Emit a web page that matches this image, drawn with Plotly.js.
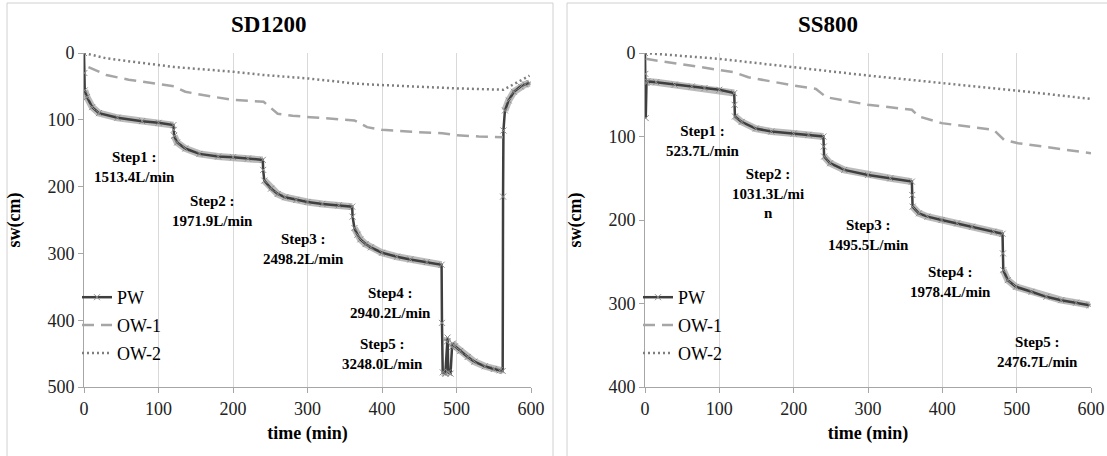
<!DOCTYPE html>
<html><head><meta charset="utf-8">
<script src="https://cdn.plot.ly/plotly-3.0.1.min.js"></script>
<style>html,body{margin:0;padding:0;background:#fff;font-family:'Liberation Serif';}#chart{width:1107px;height:456px;font-family:'Liberation Serif';}</style>
</head><body>
<div id="chart"></div>
<script>
// ---------- data ----------
const chartTitles = ['SD1200', 'SS800'];
const xTickVals = [0, 100, 200, 300, 400, 500, 600];
const sdYTicks = [0, 100, 200, 300, 400, 500];
const ssYTicks = [0, 100, 200, 300, 400];
const seriesNames = ['PW', 'OW-1', 'OW-2'];

// SD1200
const sdPwT = [0, 0.5, 1, 4, 11, 20, 45, 78, 100, 120, 120.5, 121, 125, 136, 155, 180, 200, 220, 240, 240.5, 242, 251, 260, 270, 285, 300, 320, 342, 360, 360.5, 363, 367, 371, 378, 385, 400, 420, 438, 460, 480, 480.5, 481.5, 485, 487, 488, 489, 492, 494, 495, 498, 505, 515, 524, 538, 550, 558, 562, 562.5, 563, 565, 570, 577, 586, 592, 598];
const sdPwV = [0, 30, 56, 66, 81, 90, 97, 102, 104.5, 108, 115, 124, 134, 143, 151, 155, 156, 158, 160, 175, 191, 203, 211, 216, 220, 223, 226, 228, 230, 245, 262, 272, 279, 286, 291, 299, 305, 309, 313, 317, 404, 478, 480, 432, 426, 478, 480, 440, 435, 439, 446, 455, 462, 469, 473, 475, 476, 215, 116, 86, 71, 58, 50, 47, 45];
const sdOw1T = [6, 30, 60, 100, 121, 136, 170, 200, 241, 260, 280, 304, 340, 363, 380, 400, 440, 481, 500, 530, 562];
const sdOw1V = [21, 33, 40, 46, 50, 58, 65, 70, 73, 91, 94, 96, 99, 101, 111, 115, 118, 120, 123, 125, 126];
const sdOw2T = [0, 30, 100, 121, 200, 241, 300, 366, 400, 500, 563, 580, 598];
const sdOw2V = [0, 8, 18, 21, 28, 33, 38, 46, 48, 53, 55, 45, 34];
const sdStepT = [68, 172, 294, 412, 400];
const sdStepV = [170, 236, 294, 374, 451];
const sdStepText = ['Step1 :<br>1513.4L/min', 'Step2 :<br>1971.9L/min', 'Step3 :<br>2498.2L/min', 'Step4 :<br>2940.2L/min', 'Step5 :<br>3248.0L/min'];

// SS800
const ssPwT = [0, 0.5, 1, 2, 3, 15, 40, 63, 80, 100, 120, 120.5, 121, 130, 149, 170, 200, 220, 240, 240.5, 241, 249, 268, 300, 330, 359, 359.5, 360, 368.5, 380, 399, 420, 440, 469, 481, 481.5, 482, 488, 499, 520, 540, 560, 580, 598];
const ssPwV = [0, 25, 78, 36, 34, 35, 38, 40, 42, 44, 48, 62, 76, 82.5, 90.5, 94, 96.5, 98, 100, 112, 124, 132, 140, 146, 150, 154, 170, 184, 192, 196, 200, 204, 208, 214, 216.5, 240, 260, 272, 280, 286, 292, 296, 299, 302];
const ssOw1T = [1, 44, 100, 120, 139, 200, 230, 244, 300, 359, 368.5, 399, 469, 483, 502, 550, 600];
const ssOw1V = [7, 13, 20, 23, 29, 39, 43, 53, 62, 68, 76, 84, 92, 104, 108, 114, 120];
const ssOw2T = [0, 100, 200, 300, 400, 500, 600];
const ssOw2V = [0, 7, 17, 27, 36, 45, 55];
const ssStepT = [78, 165, 300, 411, 528];
const ssStepV = [105, 168, 218, 274, 358];
const ssStepText = ['Step1 :<br>523.7L/min', 'Step2 :<br>1031.3L/mi<br>n', 'Step3 :<br>1495.5L/min', 'Step4 :<br>1978.4L/min', 'Step5 :<br>2476.7L/min'];

// ---------- styling ----------
const FONT = 'Liberation Serif';
const W = 1107, H = 456;
const px = v => v / W, py = v => (H - v) / H;
const yDom = [py(387), py(53)];

// halo (dense-marker look) : break at fast jumps
function halo(t, v) {
  const ht = [], hv = [];
  for (let i = 0; i < t.length; i++) {
    if (i > 0) {
      const s = Math.abs((v[i] - v[i - 1]) / (t[i] - t[i - 1]));
      if (s > 6) { ht.push(null); hv.push(null); }
    }
    ht.push(t[i]); hv.push(v[i]);
  }
  return [ht, hv];
}

function traces(pwT, pwV, o1T, o1V, o2T, o2V, xa, ya, lg) {
  const [hT, hV] = halo(pwT, pwV);
  return [
    {x: hT, y: hV, xaxis: xa, yaxis: ya, mode: 'lines', showlegend: false, hoverinfo: 'skip',
     line: {color: 'rgba(150,150,150,0.65)', width: 7}, connectgaps: false},
    {x: pwT, y: pwV, xaxis: xa, yaxis: ya, name: seriesNames[0], legend: lg, legendgroup: lg + 'a',
     mode: 'lines+markers', line: {color: '#3f3f3f', width: 2.5},
     marker: {symbol: 'x-thin-open', size: 6, color: '#8c8c8c', line: {color: '#8c8c8c', width: 1}}},
    {x: o1T, y: o1V, xaxis: xa, yaxis: ya, name: seriesNames[1], legend: lg, legendgroup: lg + 'b',
     mode: 'lines', line: {color: '#a6a6a6', width: 2.5, dash: '12px,7px'}},
    {x: o2T, y: o2V, xaxis: xa, yaxis: ya, name: seriesNames[2], legend: lg, legendgroup: lg + 'c',
     mode: 'lines', line: {color: '#7f7f7f', width: 2.5, dash: '2px,3px'}}
  ];
}

const data = [
  ...traces(sdPwT, sdPwV, sdOw1T, sdOw1V, sdOw2T, sdOw2V, 'x', 'y', 'legend'),
  ...traces(ssPwT, ssPwV, ssOw1T, ssOw1V, ssOw2T, ssOw2V, 'x2', 'y2', 'legend2')
];

function xAxis(dom, anchor) {
  return {domain: dom, anchor: anchor, range: [0, 600], tickvals: xTickVals, showgrid: true,
    gridcolor: '#d9d9d9', gridwidth: 1, showline: true, linecolor: '#a6a6a6', linewidth: 1,
    ticks: 'outside', ticklen: 5, tickcolor: '#a6a6a6', zeroline: false, automargin: false,
    tickfont: {family: FONT, size: 18, color: '#222'},
    title: {text: 'time (min)', standoff: 8, font: {family: FONT, size: 18, color: '#000', weight: 'bold'}}};
}
function yAxis(maxV, ticks, anchor) {
  return {domain: yDom, anchor: anchor, range: [maxV, 0], tickvals: ticks, showgrid: false,
    showline: true, linecolor: '#a6a6a6', linewidth: 1, ticks: 'outside', ticklen: 5,
    tickcolor: '#a6a6a6', zeroline: false, automargin: false,
    tickfont: {family: FONT, size: 18, color: '#222'},
    title: {text: 'sw(cm)', standoff: 22, font: {family: FONT, size: 18, color: '#000', weight: 'bold'}}};
}

const annFont = {family: FONT, size: 15, color: '#000', weight: 'bold'};
const annotations = [];
sdStepText.forEach((t, i) => annotations.push({x: sdStepT[i], y: sdStepV[i], xref: 'x', yref: 'y', text: t,
  showarrow: false, font: annFont, align: 'center', xanchor: 'center', yanchor: 'middle'}));
ssStepText.forEach((t, i) => annotations.push({x: ssStepT[i], y: ssStepV[i], xref: 'x2', yref: 'y2', text: t,
  showarrow: false, font: annFont, align: 'center', xanchor: 'center', yanchor: 'middle'}));
annotations.push({x: px(268), y: py(24), xref: 'paper', yref: 'paper', text: chartTitles[0], showarrow: false,
  xanchor: 'center', yanchor: 'middle', font: {family: FONT, size: 23, color: '#000', weight: 'bold'}});
annotations.push({x: px(828), y: py(24), xref: 'paper', yref: 'paper', text: chartTitles[1], showarrow: false,
  xanchor: 'center', yanchor: 'middle', font: {family: FONT, size: 23, color: '#000', weight: 'bold'}});

const legFont = {family: FONT, size: 18, color: '#000'};
const layout = {
  width: W, height: H, margin: {l: 0, r: 0, t: 0, b: 0}, paper_bgcolor: '#fff', plot_bgcolor: '#fff',
  font: {family: FONT, size: 18, color: '#000'},
  xaxis: xAxis([px(84), px(531)], 'y'),
  yaxis: yAxis(500, sdYTicks, 'x'),
  xaxis2: xAxis([px(645), px(1091)], 'y2'),
  yaxis2: yAxis(400, ssYTicks, 'x2'),
  legend: {x: px(77), y: py(279), xanchor: 'left', yanchor: 'top', font: legFont, bgcolor: 'rgba(0,0,0,0)',
    traceorder: 'grouped', tracegroupgap: 1.5, itemwidth: 30},
  legend2: {x: px(638), y: py(279), xanchor: 'left', yanchor: 'top', font: legFont, bgcolor: 'rgba(0,0,0,0)',
    traceorder: 'grouped', tracegroupgap: 1.5, itemwidth: 30},
  annotations: annotations,
  shapes: [
    {type: 'rect', xref: 'paper', yref: 'paper', x0: px(7), x1: px(553), y0: -0.05, y1: py(3),
     line: {color: '#d0d0d0', width: 1}},
    {type: 'rect', xref: 'paper', yref: 'paper', x0: px(567), x1: 1.05, y0: -0.05, y1: py(3),
     line: {color: '#d0d0d0', width: 1}}
  ]
};

Plotly.newPlot('chart', data, layout, {staticPlot: true, displayModeBar: false});
if (document.fonts && document.fonts.ready) {
  document.fonts.ready.then(() => Plotly.react('chart', data, layout, {staticPlot: true, displayModeBar: false}));
}
</script>
</body></html>
